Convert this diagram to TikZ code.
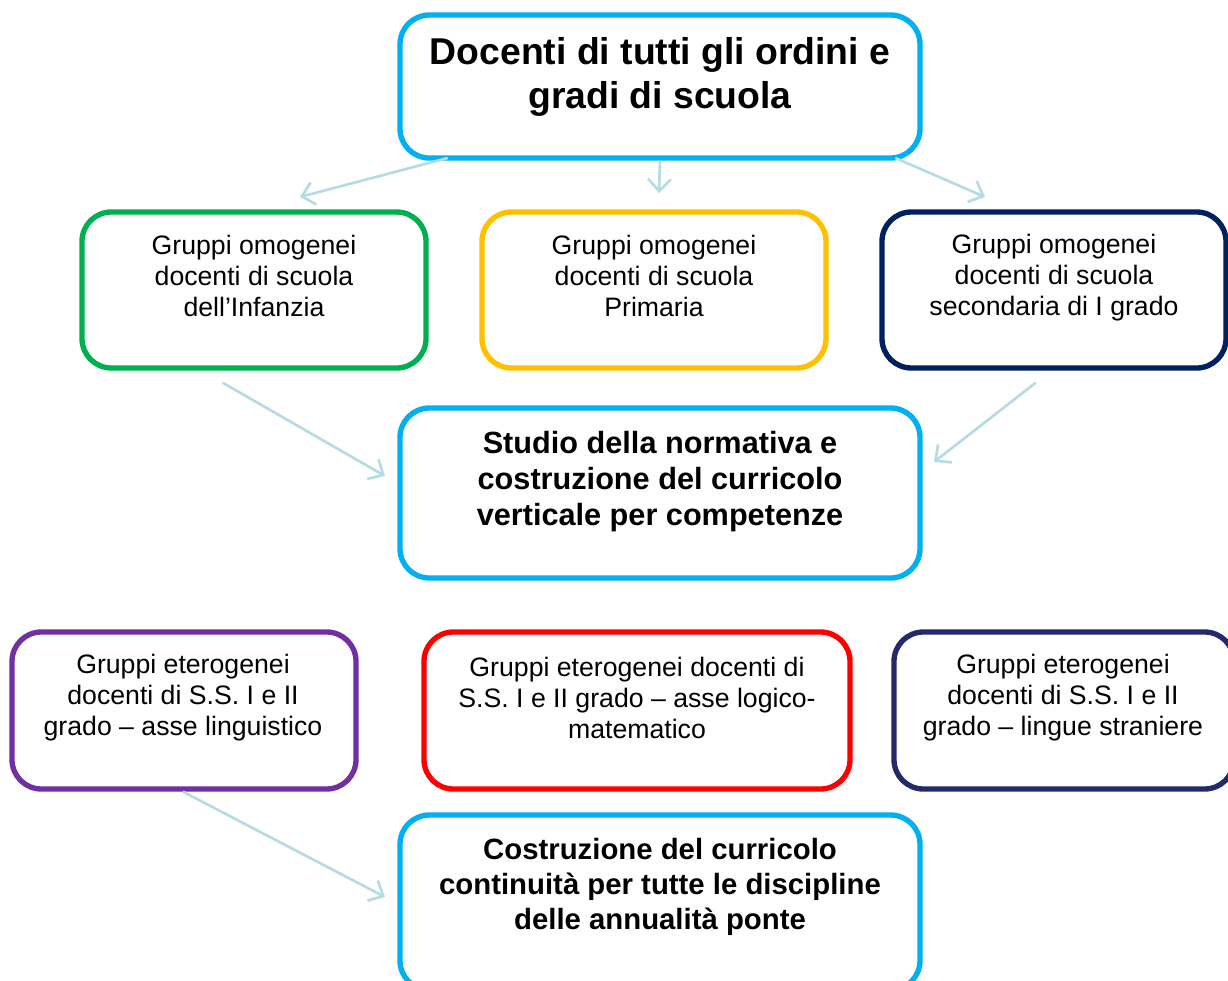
\documentclass[tikz,border=0pt]{standalone}
\usepackage{fontspec}
\setmainfont{Liberation Sans}
\usetikzlibrary{arrows.meta,fit,calc}
\definecolor{ccyan}{HTML}{00B0F0}
\definecolor{cgreen}{HTML}{00B050}
\definecolor{cyellow}{HTML}{FFC000}
\definecolor{cnavy}{HTML}{002060}
\definecolor{cpurple}{HTML}{7030A0}
\definecolor{cred}{HTML}{FF0000}
\definecolor{cnavyb}{HTML}{24296B}
\definecolor{carrow}{HTML}{B4DCE2}
\tikzset{
  box/.style={draw=#1, line width=4pt, rounded corners=22pt, inner sep=0pt, fill=white},
  plain/.style={align=center, font=\fontsize{20}{23.25}\selectfont, inner sep=0pt},
  boldtxt/.style={align=center, font=\fontsize{23}{27}\selectfont\bfseries, inner sep=0pt},
  boldsmall/.style={align=center, font=\fontsize{22}{26}\selectfont\bfseries, inner sep=0pt},
  titletxt/.style={align=center, font=\fontsize{28}{33}\selectfont\bfseries, inner sep=0pt},
  conn/.style={draw=carrow, line width=2pt, -{Straight Barb[length=9pt,width=17pt,line width=2pt]}}
}
\begin{document}
\begin{tikzpicture}[x=0.75pt,y=-0.75pt]
\clip (0,0) rectangle (1228,981);
\fill[white] (0,0) rectangle (1228,981);
% boxes
\node[box=ccyan, fit={(400,15) (920,158)}] (top) {};
\node[box=cgreen, fit={(82,212) (426,368)}] (g1) {};
\node[box=cyellow, fit={(482,212) (826,368)}] (g2) {};
\node[box=cnavy, fit={(882,212) (1226,368)}] (g3) {};
\node[box=ccyan, fit={(400,408) (920,578)}] (mid) {};
\node[box=cpurple, fit={(12,632) (356,789)}] (h1) {};
\node[box=cred, fit={(424,632) (850,789)}] (h2) {};
\node[box=cnavyb, fit={(894,632) (1234,789)}] (h3) {};
\node[box=ccyan, fit={(400,815) (920,990)}] (bot) {};
% texts
\node[titletxt] (ttop) at (660,77) {Docenti di tutti gli ordini e\\gradi di scuola};
\node[plain] (tg1) at (254,276) {Gruppi omogenei\\docenti di scuola\\dell’Infanzia};
\node[plain] (tg2) at (654,276) {Gruppi omogenei\\docenti di scuola\\Primaria};
\node[plain] (tg3) at (1054,278) {Gruppi omogenei\\docenti di scuola\\secondaria di I grado};
\node[boldtxt] (tmid) at (660,482) {Studio della normativa e\\costruzione del curricolo\\verticale per competenze};
\node[plain] (th1) at (183,698) {Gruppi eterogenei\\docenti di S.S. I e II\\grado – asse linguistico};
\node[plain] (th2) at (637,698) {Gruppi eterogenei docenti di\\S.S. I e II grado – asse logico-\\matematico};
\node[plain] (th3) at (1063,698) {Gruppi eterogenei\\docenti di S.S. I e II\\grado – lingue straniere};
\node[boldsmall] (tbot) at (660,887) {Costruzione del curricolo\\continuità per tutte le discipline\\delle annualità ponte};
% free ends
\coordinate (e1) at (300,197);
\coordinate (e2) at (659,193);
\coordinate (e3) at (985,197);
\coordinate (e4) at (385,476);
\coordinate (e5) at (934,462);
\coordinate (e6) at (385,897);
% connectors
\draw[conn] ([yshift=2pt]$(top.south west)!0.096!(top.south east)$) -- (e1);
\draw[conn] (top.south) -- (e2);
\draw[conn] ([yshift=2pt]$(top.south west)!0.948!(top.south east)$) -- (e3);
\draw[conn] ([yshift=-9pt]$(g1.south west)!0.41!(g1.south east)$) -- (e4);
\draw[conn] ([yshift=-9pt]$(g3.south west)!0.448!(g3.south east)$) -- (e5);
\draw[conn] ($(h1.south west)!0.497!(h1.south east)$) -- (e6);
\end{tikzpicture}
\end{document}
